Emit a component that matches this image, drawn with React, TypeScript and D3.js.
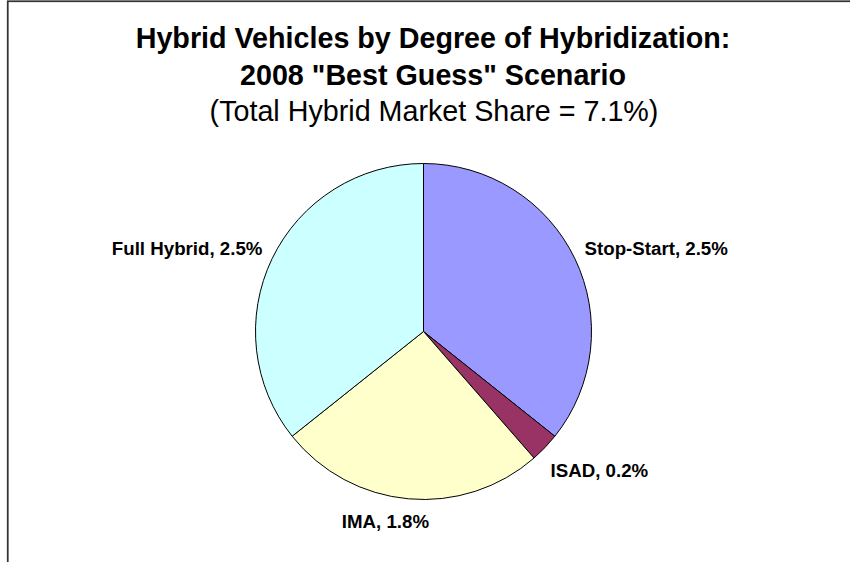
import React from "react";
import * as d3 from "d3";

const categories = ["Stop-Start", "ISAD", "IMA", "Full Hybrid"];
const values = [2.5, 0.2, 1.8, 2.5];
const colors = ["#9999FF", "#993366", "#FFFFCC", "#CCFFFF"];
const titleLines = ["Hybrid Vehicles by Degree of Hybridization:", "2008 \"Best Guess\" Scenario"];
const subtitle = "(Total Hybrid Market Share = 7.1%)";

const W = 850;
const H = 562;

export default function App() {
  const cx = 423.5;
  const cy = 331.5;
  const r = 168;
  const data = categories.map((c, i) => ({ name: c, value: values[i], color: colors[i] }));
  const pie = d3.pie<any>().sort(null).value((d: any) => d.value);
  const arcs = pie(data);
  const arc = d3.arc<any>().innerRadius(0).outerRadius(r);
  const labelArc = d3.arc<any>().innerRadius(r + 23).outerRadius(r + 23);
  const font = "'Liberation Sans', Arial, Helvetica, sans-serif";

  return (
    <svg width={W} height={H} style={{ position: "absolute", left: 0, top: 0 }} fontFamily={font}>
      <rect x={0} y={0} width={W} height={H} fill="#fff" />
      <rect x={7.75} y={1.25} width={W + 20} height={H + 20} fill="none" stroke="#333" strokeWidth={1.75} />
      <text x={433} y={48} textAnchor="middle" fontWeight="bold" fontSize={28.7} fill="#000">{titleLines[0]}</text>
      <text x={433} y={85} textAnchor="middle" fontWeight="bold" fontSize={28.7} fill="#000">{titleLines[1]}</text>
      <text x={434} y={121} textAnchor="middle" fontSize={28.7} fill="#000">{subtitle}</text>
      <g transform={`translate(${cx},${cy})`}>
        {arcs.map((a, i) => (
          <path key={i} d={arc(a) as string} fill={a.data.color} stroke="#000" strokeWidth={1} />
        ))}
        {arcs.map((a, i) => {
          const [px, py] = labelArc.centroid(a);
          const mid = (a.startAngle + a.endAngle) / 2;
          const s = Math.sin(mid);
          const c = Math.cos(mid);
          let anchor = "middle";
          let dx = 0;
          if (s > 0.3) { anchor = "start"; dx = -11; }
          else if (s < -0.3) { anchor = "end"; dx = 11; }
          else { dx = -21; }
          const dy = c < -0.9 ? 6 : 6.5 + Math.max(0, -c) * 10;
          return (
            <text key={"l" + i} x={px + dx} y={py + dy} textAnchor={anchor} fontWeight="bold" fontSize={18.7} fill="#000">
              {`${a.data.name}, ${a.data.value.toFixed(1)}%`}
            </text>
          );
        })}
      </g>
    </svg>
  );
}
